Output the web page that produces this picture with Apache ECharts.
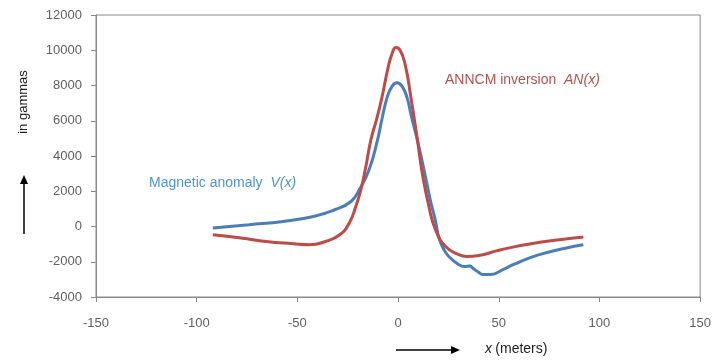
<!DOCTYPE html>
<html>
<head>
<meta charset="utf-8">
<script src="https://cdn.jsdelivr.net/npm/echarts@6/dist/echarts.min.js"></script>
<style>
  html, body { margin: 0; padding: 0; background: #fff; }
  #chart { width: 714px; height: 364px; }
</style>
</head>
<body>
<div id="chart"></div>
<script>
  // magnetic anomaly V(x)
  const blueX = [-92, -74, -57, -42, -31.5, -23.4, -19.3, -14.4, -10.2, -8, -5.5, -3, -0.6, 2, 4.5, 6.5, 8.5, 10.5, 13, 16, 18.5, 20.3, 22.5, 25.2, 30.2, 33, 34.5, 35.5, 37, 40, 42, 46, 52, 57.7, 66, 74.5, 83, 92];
  const blueY = [-90, 100, 285, 570, 950, 1420, 2080, 3220, 4920, 6100, 7300, 7950, 8150, 7950, 7300, 6300, 5400, 4450, 3150, 1500, 350, -650, -1250, -1700, -2170, -2270, -2260, -2230, -2350, -2600, -2720, -2720, -2450, -2140, -1750, -1460, -1230, -1040];

  // ANNCM inversion AN(x)
  const redX = [-92, -78, -65.5, -52, -44, -36, -29, -24.3, -21, -18.5, -16, -13.5, -10.5, -7.9, -5, -3, -1.1, 1, 3.5, 6.3, 9.6, 12, 15.3, 18.6, 23.6, 30.2, 34, 40, 49.3, 57, 66, 75, 84, 92];
  const redY = [-470, -650, -850, -980, -1040, -850, -470, 190, 1135, 2080, 3400, 4920, 6150, 7380, 9000, 9800, 10150, 10000, 9200, 7380, 4920, 3030, 1135, -190, -1135, -1600, -1700, -1650, -1370, -1170, -980, -820, -700, -590];

  const chart = echarts.init(document.getElementById('chart'));

  const axisFont = { color: '#606060', fontSize: 13, fontFamily: 'Liberation Sans', formatter: v => String(v) };

  chart.setOption({
    animation: false,
    grid: {
      left: 96, right: 12, top: 15, bottom: 67,
      show: true,
      borderColor: '#888',
      borderWidth: 1
    },
    xAxis: {
      type: 'value',
      min: -150, max: 150, interval: 50,
      axisLine: { onZero: false, lineStyle: { color: '#888' } },
      axisTick: { show: true, length: 5, lineStyle: { color: '#888' } },
      axisLabel: { ...axisFont, margin: 20 },
      splitLine: { show: false }
    },
    yAxis: {
      type: 'value',
      min: -4000, max: 12000, interval: 2000,
      axisLine: { show: true, onZero: false, lineStyle: { color: '#888' } },
      axisTick: { show: true, length: 5, lineStyle: { color: '#888' } },
      axisLabel: { ...axisFont, margin: 14 },
      splitLine: { show: false }
    },
    series: [
      {
        name: 'Magnetic anomaly V(x)',
        type: 'line',
        smooth: 0.5,
        showSymbol: false,
        data: blueX.map((x, i) => [x, blueY[i]]),
        lineStyle: { color: '#4A7EBB', width: 3 },
        z: 2
      },
      {
        name: 'ANNCM inversion AN(x)',
        type: 'line',
        smooth: 0.5,
        showSymbol: false,
        data: redX.map((x, i) => [x, redY[i]]),
        lineStyle: { color: '#BE4B48', width: 3 },
        z: 3
      }
    ],
    graphic: [
      // series notes
      {
        type: 'text', left: 149, top: 176,
        style: {
          rich: {
            a: { fontFamily: 'Liberation Sans', fontSize: 14, fill: '#4E93D6' },
            b: { fontFamily: 'Liberation Sans', fontSize: 14, fill: '#4E93D6', fontStyle: 'italic' }
          },
          text: '{a|Magnetic anomaly  }{b|V(x)}'
        }
      },
      {
        type: 'text', left: 445, top: 73,
        style: {
          rich: {
            a: { fontFamily: 'Liberation Sans', fontSize: 14, fill: '#B5504D' },
            b: { fontFamily: 'Liberation Sans', fontSize: 14, fill: '#B5504D', fontStyle: 'italic' }
          },
          text: '{a|ANNCM inversion  }{b|AN(x)}'
        }
      },
      // y axis title with arrow
      {
        type: 'text', x: 23, y: 102, rotation: Math.PI / 2,
        style: {
          text: 'in gammas', fontFamily: 'Liberation Sans', fontSize: 13,
          fill: '#222', align: 'center', verticalAlign: 'middle'
        }
      },
      { type: 'line', shape: { x1: 24, y1: 234, x2: 24, y2: 182 }, style: { stroke: '#000', lineWidth: 1.5 } },
      { type: 'polygon', shape: { points: [[20, 184], [28, 184], [24, 175]] }, style: { fill: '#000' } },
      // x axis title with arrow
      { type: 'line', shape: { x1: 396, y1: 350, x2: 452, y2: 350 }, style: { stroke: '#000', lineWidth: 1.5 } },
      { type: 'polygon', shape: { points: [[451, 346], [451, 354], [460, 350]] }, style: { fill: '#000' } },
      {
        type: 'text', left: 485, top: 342,
        style: {
          rich: {
            a: { fontFamily: 'Liberation Sans', fontSize: 14, fill: '#222', fontStyle: 'italic' },
            b: { fontFamily: 'Liberation Sans', fontSize: 14, fill: '#222' }
          },
          text: '{a|x} {b|(meters)}'
        }
      }
    ]
  });
</script>
</body>
</html>
